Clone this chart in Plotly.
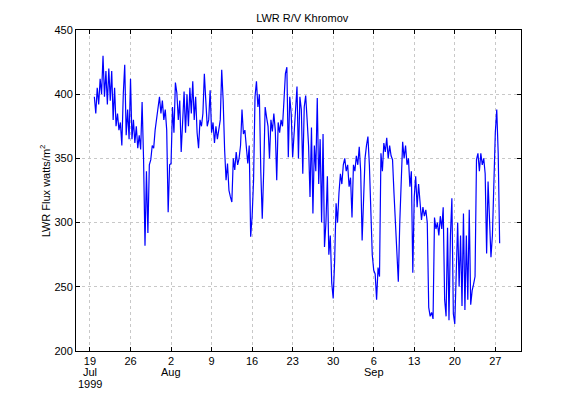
import pandas as pd
import plotly.graph_objects as go

# 6-hourly LWR samples starting 1999-07-19 18:00 (values in W/m^2)
start_time = "1999-07-19 18:00"
sample_freq = "6h"
lwr_values = [
    398,
    385, 405, 392, 412,
    400, 430, 398, 418,
    392, 420, 395, 418,
    380, 405, 375, 385,
    372, 378, 360, 400,
    423, 368, 388, 365,
    412, 365, 380, 362,
    375, 358, 368, 357,
    394, 350, 282, 340,
    292, 345, 349, 360,
    358, 372, 380, 388,
    398, 385, 395, 380,
    388, 372, 308, 345,
    346, 390, 370, 409,
    401, 380, 395, 355,
    385, 402, 370, 400,
    375, 405, 385, 410,
    380, 398, 370, 358,
    380, 375, 385, 416,
    395, 375, 380, 403,
    370, 378, 362, 375,
    365, 372, 380, 419,
    395, 357, 333, 346,
    325, 320, 316, 350,
    341, 355, 345, 350,
    360, 388, 369, 372,
    355, 346, 360, 289,
    305, 333, 398, 410,
    390, 400, 340, 303,
    340, 390, 382, 375,
    350, 380, 371, 385,
    372, 333, 378, 370,
    380, 375, 395, 416,
    421, 351, 398, 385,
    351, 370, 390, 406,
    350, 398, 388, 338,
    390, 399, 380, 360,
    320, 374, 307, 360,
    340, 397, 330, 365,
    300, 369, 281, 300,
    336, 275, 290, 253,
    241, 270, 315, 300,
    323, 338, 330, 345,
    350, 340, 345, 328,
    335, 304, 345, 340,
    352, 345, 359, 340,
    286, 320, 350, 360,
    367, 345, 312, 275,
    263, 260, 240, 265,
    258, 354, 340, 362,
    355, 366, 350, 360,
    352, 349, 323, 297,
    270, 254, 300, 340,
    363, 350, 360, 345,
    350, 328, 340, 261,
    320, 336, 312, 330,
    315, 302, 312, 305,
    310, 300, 234, 227,
    230, 225, 304, 295,
    300, 290, 305, 295,
    312, 240, 227, 296,
    224, 290, 319, 229,
    221, 260, 300, 250,
    290, 235, 307, 232,
    290, 240, 310, 236,
    247, 252, 258, 349,
    354, 340, 354, 345,
    350, 338, 276, 332,
    300, 273, 290, 340,
    370, 388, 354, 284,
]

tick_dates = ["1999-07-19", "1999-07-26", "1999-08-02", "1999-08-09", "1999-08-16",
              "1999-08-23", "1999-08-30", "1999-09-06", "1999-09-13", "1999-09-20",
              "1999-09-27"]
tick_labels = ["19", "26", "2", "9", "16", "23", "30", "6", "13", "20", "27"]
month_dates = ["1999-07-19", "1999-08-02", "1999-09-06"]
month_labels = ["Jul", "Aug", "Sep"]
year_date = "1999-07-19"
year_label = "1999"
y_ticks = [200, 250, 300, 350, 400, 450]

times = pd.date_range(start=start_time, periods=len(lwr_values), freq=sample_freq)

fig = go.Figure()
fig.add_trace(go.Scatter(x=times, y=lwr_values, mode="lines",
                         line=dict(color="#0000ff", width=1.2), showlegend=False))

font = dict(family="Liberation Sans, Arial, sans-serif", size=11, color="#000000")
# page body has an 8px margin, so the figure is sized to fit inside 576x395
fig.update_layout(
    width=568, height=387,
    margin=dict(l=68, r=55, t=22, b=44, autoexpand=False),
    paper_bgcolor="white", plot_bgcolor="white",
    font=font,
    title=dict(text="LWR R/V Khromov", x=0.518, xanchor="center",
               y=1 - 10 / 387, yanchor="middle", font=dict(size=11)),
)
fig.update_xaxes(
    type="date", range=["1999-07-16 14:00", "1999-10-01 10:30"],
    tickmode="array", tickvals=tick_dates, ticktext=tick_labels,
    showline=True, linecolor="#000000", linewidth=1, mirror="allticks",
    ticks="inside", ticklen=4, tickcolor="#000000",
    showgrid=True, gridcolor="#c8c8c8", griddash="dot", gridwidth=1,
    zeroline=False, tickangle=0, automargin=False, ticklabelstandoff=0,
)
fig.update_yaxes(
    range=[200, 450], tickmode="array", tickvals=y_ticks,
    showline=True, linecolor="#000000", linewidth=1, mirror="allticks",
    ticks="inside", ticklen=4, tickcolor="#000000",
    showgrid=True, gridcolor="#c8c8c8", griddash="dot", gridwidth=1,
    zeroline=False, automargin=False,
)
for d, lab in zip(month_dates, month_labels):
    fig.add_annotation(text=lab, xref="x", yref="paper", x=d, y=-0.066,
                       xanchor="center", yanchor="middle", showarrow=False,
                       font=dict(size=11))
fig.add_annotation(text=year_label, xref="x", yref="paper", x=year_date, y=-0.104,
                   xanchor="center", yanchor="middle", showarrow=False,
                   font=dict(size=11))
fig.add_annotation(text="LWR Flux watts/m<sup>2</sup>", textangle=-90,
                   xref="paper", yref="paper", x=-0.07, y=0.5,
                   xanchor="center", yanchor="middle", showarrow=False,
                   font=dict(size=11))

fig.write_html("out.html")
